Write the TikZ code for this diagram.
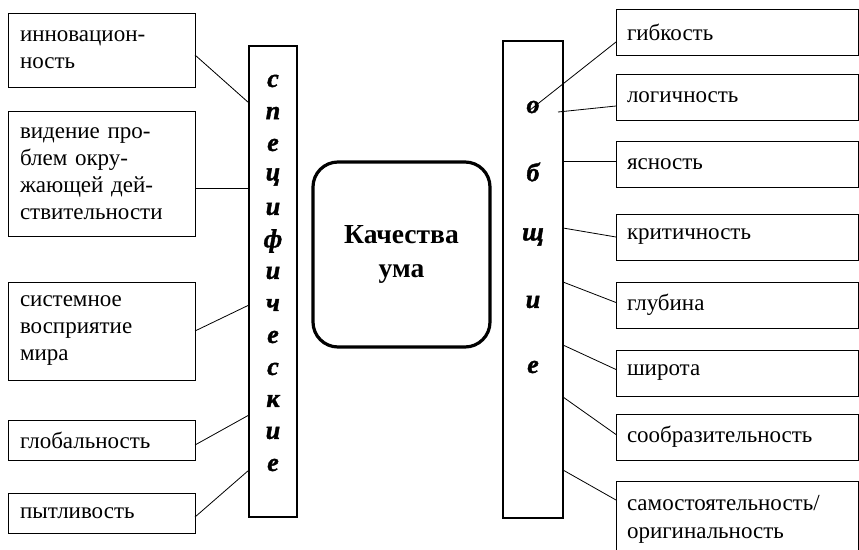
\documentclass[tikz,border=0pt]{standalone}
\usepackage{fontspec}
\setmainfont{Liberation Serif}
\newfontfamily\lettfont{Liberation Serif}[UprightFont={* Bold Italic}, FakeBold=1.5]
\usetikzlibrary{positioning}

\begin{document}
\begin{tikzpicture}[
  x=1pt, y=-1pt,
  lbox/.style={draw, line width=0.8pt, anchor=north west, text width=163pt,
    align=left, inner xsep=12pt, inner ysep=0pt, outer sep=0pt,
    font=\fontsize{23}{27}\selectfont},
  rbox/.style={draw, line width=0.8pt, anchor=north west, text width=220pt,
    align=left, inner xsep=11pt, inner ysep=0pt, outer sep=0pt,
    minimum height=46pt, font=\fontsize{23}{28}\selectfont},
  col/.style={draw, line width=2.2pt, anchor=north west, inner sep=0pt, outer sep=0pt},
  letter/.style={inner sep=0pt, font=\lettfont\fontsize{26}{28}\selectfont},
  link/.style={line width=0.8pt}
]
\clip (0,0) rectangle (859,549);

% columns and centre
\node[col, minimum width=48pt, minimum height=471pt] (lcol) at (249,46) {};
\node[col, minimum width=60pt, minimum height=477pt] (rcol) at (503,41) {};
\node[draw, line width=3.2pt, rounded corners=25pt, minimum width=177pt,
  minimum height=185pt, align=center, font=\fontsize{27.5}{34}\selectfont\bfseries]
  (kach) at (401.5,254.5) {Качества\\ума};

\foreach \c [count=\i from 0] in {с,п,е,ц,и,ф,и,ч,е,с,к,и,е}
  \node[letter] (sp\i) at (273,81+32*\i) {\c};
\foreach \c [count=\i from 0] in {о,б,щ,и,е}
  \node[letter] (ob\i) at (533,107+65*\i) {\c};

% specific
\node[lbox, minimum height=74pt] (inno) at (8,13) {инновацион-\\ность};
\node[lbox, minimum height=125pt] (vid) at (8,111) {видение про-\\блем окру-\\жающей дей-\\ствительности};
\node[lbox, minimum height=98pt] (sist) at (8,282) {системное\\восприятие\\мира};
\node[lbox, minimum height=40pt] (glob) at (8,420) {глобальность};
\node[lbox, minimum height=40pt] (pyt) at (8,493) {пытливость};

% general
\node[rbox] (gib) at (616,9) {гибкость};
\node[rbox] (log) at (616,74) {логичность};
\node[rbox] (yas) at (616,141) {ясность};
\node[rbox] (krit) at (616,214) {критичность};
\node[rbox] (glub) at (616,282) {глубина};
\node[rbox] (shir) at (616,350) {широта};
\node[rbox] (soob) at (616,414) {сообразительность};
\node[rbox, minimum height=76pt] (sam) at (616,481) {самостоятельность/\\оригинальность};

\coordinate (l1) at (249,103);
\coordinate (l2) at (249,188);
\coordinate (l3) at (249,305);
\coordinate (l4) at (249,415);
\coordinate (l5) at (249,470);
\draw[link] ([yshift=-5pt]inno.east) -- (l1);
\draw[link] ([yshift=-14.5pt]vid.east) -- (l2);
\draw[link] (sist.east) -- (l3);
\draw[link] ([yshift=-5pt]glob.east) -- (l4);
\draw[link] ([yshift=-4pt]pyt.east) -- (l5);

\coordinate (r1) at (530,110);
\coordinate (r2) at (558,112);
\coordinate (r3) at (563,161);
\coordinate (r4) at (563,228);
\coordinate (r5) at (563,282);
\coordinate (r6) at (563,345);
\coordinate (r7) at (563,397);
\coordinate (r8) at (563,470);
\draw[link] ([yshift=-10pt]gib.west) -- (r1);
\draw[link] ([yshift=-9pt]log.west) -- (r2);
\draw[link] ([yshift=3pt]yas.west) -- (r3);
\draw[link] (krit.west) -- (r4);
\draw[link] ([yshift=2.5pt]glub.west) -- (r5);
\draw[link] ([yshift=3.5pt]shir.west) -- (r6);
\draw[link] ([yshift=2.5pt]soob.west) -- (r7);
\draw[link] ([yshift=19pt]sam.west) -- (r8);
\end{tikzpicture}
\end{document}
